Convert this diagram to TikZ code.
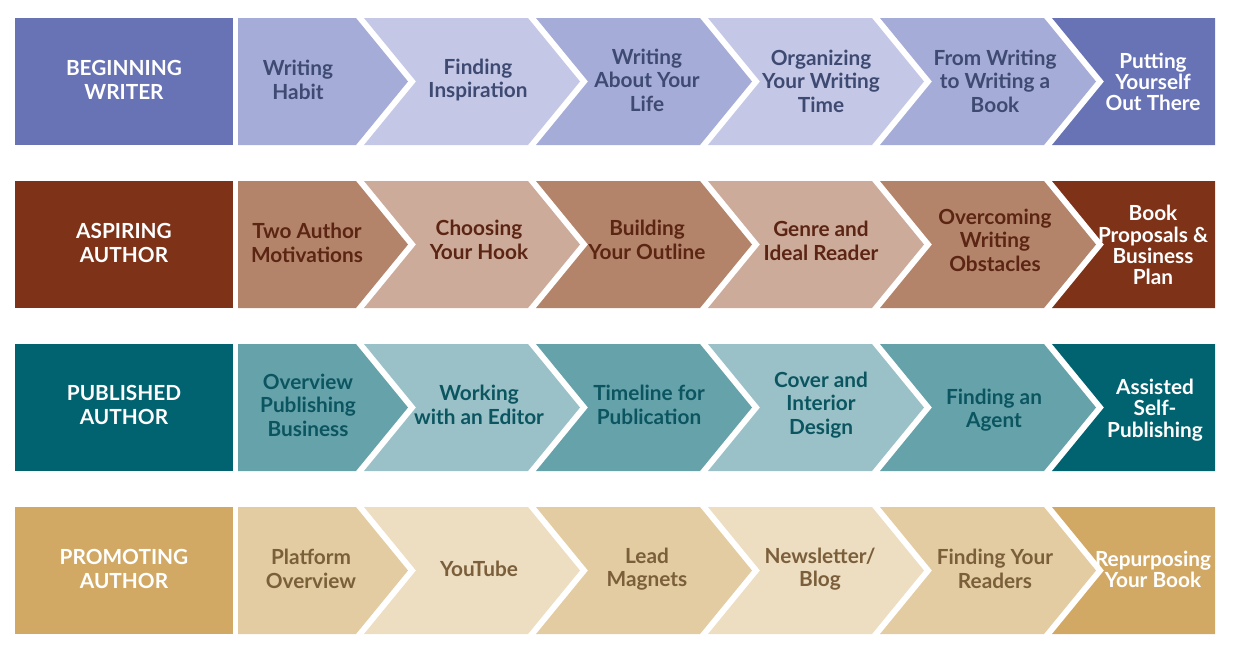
\documentclass[tikz,border=0pt]{standalone}
\usepackage{fontspec}
\setmainfont{Lato}
\definecolor{bwDark}{HTML}{6873B6}
\definecolor{bwMid}{HTML}{A5ACD7}
\definecolor{bwLight}{HTML}{C4C8E6}
\definecolor{bwText}{HTML}{3E4A72}
\definecolor{aaDark}{HTML}{7E3218}
\definecolor{aaMid}{HTML}{B3846A}
\definecolor{aaLight}{HTML}{CDAB9A}
\definecolor{aaText}{HTML}{5B2413}
\definecolor{paDark}{HTML}{00636F}
\definecolor{paMid}{HTML}{66A2AA}
\definecolor{paLight}{HTML}{9AC1C7}
\definecolor{paText}{HTML}{0B5560}
\definecolor{prDark}{HTML}{D1A965}
\definecolor{prMid}{HTML}{E3CCA2}
\definecolor{prLight}{HTML}{EDDDC1}
\definecolor{prText}{HTML}{7B5F3B}

\begin{document}
\begin{tikzpicture}[x=.5pt, y=-.5pt,
  lbl/.style={font=\bfseries\fontsize{10.4}{11.7}\selectfont, align=center, inner sep=0pt},
  head/.style={lbl, text=white},
  tail/.style={head, font=\bfseries\fontsize{10.4}{10.6}\selectfont}]
\useasboundingbox (0,0) rectangle (1234,648);
\foreach \dk/\md/\lt/\tx [count=\i] in {bwDark/bwMid/bwLight/bwText, aaDark/aaMid/aaLight/aaText, paDark/paMid/paLight/paText, prDark/prMid/prLight/prText}
{
  \pgfmathsetmacro{\yt}{18+163*(\i-1)}
  \pgfmathsetmacro{\ym}{\yt+63.5}
  \pgfmathsetmacro{\yb}{\yt+127}
  \fill[\dk] (15,\yt) rectangle (233,\yb);
  \fill[\md] (238,\yt) -- (356,\yt) -- (408,\ym) -- (356,\yb) -- (238,\yb) -- cycle;
  \foreach \k in {2,...,5}
  {
    \pgfmathsetmacro{\xl}{364+172*(\k-2)}
    \pgfmathtruncatemacro{\odd}{mod(\k,2)}
    \ifnum\odd=0 \def\fc{\lt}\else \def\fc{\md}\fi
    \fill[\fc] (\xl,\yt) -- (\xl+164,\yt) -- (\xl+216,\ym) -- (\xl+164,\yb) -- (\xl,\yb) -- (\xl+52,\ym) -- cycle;
  }
  \fill[\dk] (1052,\yt) -- (1215,\yt) -- (1215,\yb) -- (1052,\yb) -- (1104,\ym) -- cycle;
  \coordinate (r\i) at (0,\ym);
}

\node[head] (bw0) at (124,80) {BEGINNING\\WRITER};
\node[lbl, text=bwText] (bw1) at (298,80) {Writing\\Habit};
\node[lbl, text=bwText] (bw2) at (478,80) {Finding\\Inspiration};
\node[lbl, text=bwText] (bw3) at (647,80) {Writing\\About Your\\Life};
\node[lbl, text=bwText] (bw4) at (821,81) {Organizing\\Your Writing\\Time};
\node[lbl, text=bwText] (bw5) at (995,81) {From Writing\\to Writing a\\Book};
\node[tail] (bw6) at (1153,82) {Putting\\Yourself\\Out There};

\node[head] (aa0) at (124,243) {ASPIRING\\AUTHOR};
\node[lbl, text=aaText] (aa1) at (307,243) {Two Author\\Motivations};
\node[lbl, text=aaText] (aa2) at (479,240) {Choosing\\Your Hook};
\node[lbl, text=aaText] (aa3) at (647,240) {Building\\Your Outline};
\node[lbl, text=aaText] (aa4) at (821,241) {Genre and\\Ideal Reader};
\node[lbl, text=aaText] (aa5) at (995,240) {Overcoming\\Writing\\Obstacles};
\node[tail] (aa6) at (1153,245) {Book\\Proposals \&\\Business\\Plan};

\node[head] (pa0) at (124,405) {PUBLISHED\\AUTHOR};
\node[lbl, text=paText] (pa1) at (308,405) {Overview\\Publishing\\Business};
\node[lbl, text=paText] (pa2) at (479,405) {Working\\with an Editor};
\node[lbl, text=paText] (pa3) at (649,405) {Timeline for\\Publication};
\node[lbl, text=paText] (pa4) at (821,405) {Cover and\\Interior\\Design};
\node[lbl, text=paText] (pa5) at (994,410) {Finding an\\Agent};
\node[tail] (pa6) at (1155,410) {Assisted\\Self-\\Publishing};

\node[head] (pr0) at (124,569) {PROMOTING\\AUTHOR};
\node[lbl, text=prText] (pr1) at (311,569) {Platform\\Overview};
\node[lbl, text=prText] (pr2) at (479,569) {YouTube};
\node[lbl, text=prText] (pr3) at (647,569) {Lead\\Magnets};
\node[lbl, text=prText] (pr4) at (820,569) {Newsletter/\\Blog};
\node[lbl, text=prText] (pr5) at (995,569) {Finding Your\\Readers};
\node[tail] (pr6) at (1153,569) {Repurposing\\Your Book};
\end{tikzpicture}
\end{document}
